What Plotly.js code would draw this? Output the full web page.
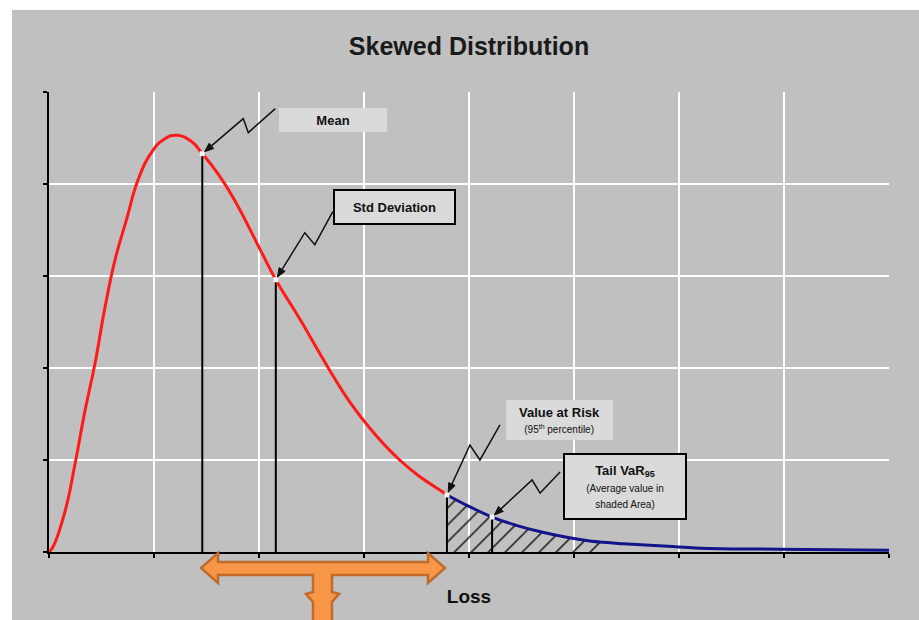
<!DOCTYPE html>
<html>
<head>
<meta charset="utf-8">
<script src="https://cdn.plot.ly/plotly-3.0.1.min.js"></script>
<style>
  html, body { margin: 0; padding: 0; background: #ffffff; }
  #chart { position: absolute; left: 12px; top: 10px; width: 907px; height: 610px; }
</style>
</head>
<body>
<div id="chart"></div>
<script>
// Body of the loss distribution (left of the VaR cut-off)
const bodyX = [0, 0.04, 0.15, 0.25, 0.34, 0.44, 0.53, 0.63, 0.74, 0.85, 0.98, 1.10, 1.22, 1.36, 1.46,
               1.61, 1.76, 2.01, 2.16, 2.39, 2.65, 2.87, 3.09, 3.34, 3.53, 3.74, 3.79];
const bodyY = [0, 0.06, 0.43, 0.97, 1.52, 2.06, 2.64, 3.18, 3.62, 4.05, 4.35, 4.49, 4.53, 4.46, 4.33,
               4.11, 3.84, 3.29, 2.96, 2.53, 2.02, 1.62, 1.30, 1.00, 0.82, 0.66, 0.62];

// Tail of the distribution (right of the VaR cut-off)
const tailX = [3.79, 4.01, 4.22, 4.45, 4.68, 4.93, 5.15, 5.28, 5.47, 5.94, 6.20, 6.96, 8.00];
const tailY = [0.62, 0.49, 0.38, 0.29, 0.22, 0.16, 0.12, 0.105, 0.09, 0.06, 0.04, 0.03, 0.02];

// Shaded (hatched) part of the tail
const shadeEnd = 5.28;

// Marked statistics: x position and curve height
const statNames = ['Mean', 'Std Deviation', 'Value at Risk', 'Tail VaR'];
const statX = [1.46, 2.16, 3.79, 4.22];
const statY = [4.33, 2.96, 0.62, 0.38];

// Callout labels and where their boxes sit
const calloutText = [
  '<b>Mean</b>',
  '<b>Std Deviation</b>',
  '<b>Value at Risk</b><br><span style="font-size:10px">(95<sup>th</sup> percentile)</span>',
  '<b>Tail VaR<sub>95</sub></b><br><span style="font-size:10px">(Average value in<br>shaded Area)</span>'
];
const calloutBoxX = [2.705, 3.29, 4.862, 5.486];
const calloutBoxY = [4.70, 3.75, 1.44, 0.714];
const calloutW = [108, 119, 107, 120];
const calloutH = [24, 32, 40, 63];
const calloutBorder = [0, 2, 0, 2];
// zigzag leader lines, pixel offsets from the marked point (y up)
const zigzag = [
  [[73, 45], [46, 21], [41, 35]],
  [[57, 68], [39, 35], [29, 47]],
  [[53, 70], [33, 35], [23, 50]],
  [[68, 45], [48, 24], [40, 37]]
];

const hatchX = tailX.filter(v => v <= shadeEnd);
const hatchY = tailY.slice(0, hatchX.length);

const FONT = '"Liberation Sans", Arial, sans-serif';
const SMOOTH = 1.3;

const traces = [
  {
    x: hatchX, y: hatchY, type: 'scatter', mode: 'lines',
    line: { width: 0, shape: 'spline', smoothing: SMOOTH },
    fill: 'tozeroy', fillcolor: 'rgba(0,0,0,0)',
    fillpattern: { shape: '/', fgcolor: '#111111', bgcolor: 'rgba(0,0,0,0)', size: 12, solidity: 0.12 },
    hoverinfo: 'skip', showlegend: false
  }
];

statX.forEach((sx, i) => {
  traces.push({
    x: [sx, sx], y: [0, statY[i]], type: 'scatter', mode: 'lines',
    line: { color: '#000000', width: 2 }, name: statNames[i], showlegend: false
  });
});

traces.push({
  x: bodyX, y: bodyY, type: 'scatter', mode: 'lines',
  line: { color: '#ff1a1a', width: 3, shape: 'spline', smoothing: SMOOTH },
  showlegend: false
});
traces.push({
  x: tailX, y: tailY, type: 'scatter', mode: 'lines',
  line: { color: '#14148a', width: 3, shape: 'spline', smoothing: SMOOTH },
  showlegend: false
});
traces.push({
  x: statX, y: statY, type: 'scatter', mode: 'markers',
  marker: { color: '#f4f4f4', size: 5, symbol: 'square' },
  showlegend: false
});

const shapes = [];
const annotations = [];

statX.forEach((sx, i) => {
  const pts = zigzag[i];
  const last = pts[pts.length - 1];
  // arrow tip sits a little way off the point, along the last leg
  const len = Math.hypot(last[0], last[1]);
  const ux = last[0] / len, uy = last[1] / len;
  const tip = [ux * 3, uy * 3];
  const base = [tip[0] + ux * 9, tip[1] + uy * 9];
  const px = -uy * 3.5, py = ux * 3.5;
  shapes.push({
    type: 'path', xref: 'x', yref: 'y',
    xsizemode: 'pixel', ysizemode: 'pixel',
    xanchor: sx, yanchor: statY[i],
    path: 'M' + pts.map(p => p[0] + ',' + p[1]).join(' L') + ' L' + base[0] + ',' + base[1],
    line: { color: '#111111', width: 1.5 }
  });
  shapes.push({
    type: 'path', xref: 'x', yref: 'y',
    xsizemode: 'pixel', ysizemode: 'pixel',
    xanchor: sx, yanchor: statY[i],
    path: 'M' + tip[0] + ',' + tip[1] +
          ' L' + (base[0] + px) + ',' + (base[1] + py) +
          ' L' + (base[0] - px) + ',' + (base[1] - py) + ' Z',
    fillcolor: '#111111', line: { color: '#111111', width: 1 }
  });
  annotations.push({
    x: calloutBoxX[i], y: calloutBoxY[i], xref: 'x', yref: 'y',
    text: calloutText[i], showarrow: false,
    width: calloutW[i], height: calloutH[i],
    bgcolor: '#dadada', bordercolor: '#000000', borderwidth: calloutBorder[i],
    borderpad: 0,
    font: { family: FONT, size: 13, color: '#111111' }
  });
});

// orange T-shaped double arrow below the axis (pixel offsets from plot origin)
const arrowPts = [
  [152, -16], [169, -1], [169, -10], [379, -10], [379, -1], [396, -16], [379, -31], [379, -23],
  [283, -23], [283, -40], [290, -42], [283, -50], [283, -75], [264, -75], [264, -50], [257, -42],
  [264, -40], [264, -23], [169, -23], [169, -31]
];
shapes.push({
  type: 'path', xref: 'paper', yref: 'paper',
  xsizemode: 'pixel', ysizemode: 'pixel', xanchor: 0, yanchor: 0,
  path: 'M' + arrowPts.map(p => p[0] + ',' + p[1]).join(' L') + ' Z',
  fillcolor: '#f79646', line: { color: '#c06a2b', width: 2.5 }, layer: 'above'
});

const layout = {
  width: 907, height: 610,
  paper_bgcolor: '#c0c0c0', plot_bgcolor: '#c0c0c0',
  margin: { l: 37, r: 30, t: 82, b: 68 },
  font: { family: FONT, color: '#111111' },
  title: {
    text: '<b>Skewed Distribution</b>', x: 0.5, xref: 'paper', xanchor: 'center',
    y: 0.941, yref: 'container', yanchor: 'middle',
    font: { family: FONT, size: 25, color: '#1a1a1a' }
  },
  xaxis: {
    range: [0, 8], dtick: 1, tick0: 0, showticklabels: false,
    showgrid: true, gridcolor: '#ffffff', gridwidth: 2.5,
    showline: true, linecolor: '#000000', linewidth: 2,
    ticks: 'outside', ticklen: 4, tickwidth: 2, tickcolor: '#000000',
    zeroline: false, fixedrange: true,
    title: { text: '<b>Loss</b>', standoff: 33, font: { family: FONT, size: 19, color: '#111111' } }
  },
  yaxis: {
    range: [0, 5], dtick: 1, tick0: 0, showticklabels: false,
    showgrid: true, gridcolor: '#ffffff', gridwidth: 2.5,
    showline: true, linecolor: '#000000', linewidth: 2,
    ticks: 'outside', ticklen: 4, tickwidth: 2, tickcolor: '#000000',
    zeroline: false, fixedrange: true
  },
  shapes: shapes,
  annotations: annotations,
  showlegend: false
};

Plotly.newPlot('chart', traces, layout, { staticPlot: true, displayModeBar: false });
</script>
</body>
</html>
